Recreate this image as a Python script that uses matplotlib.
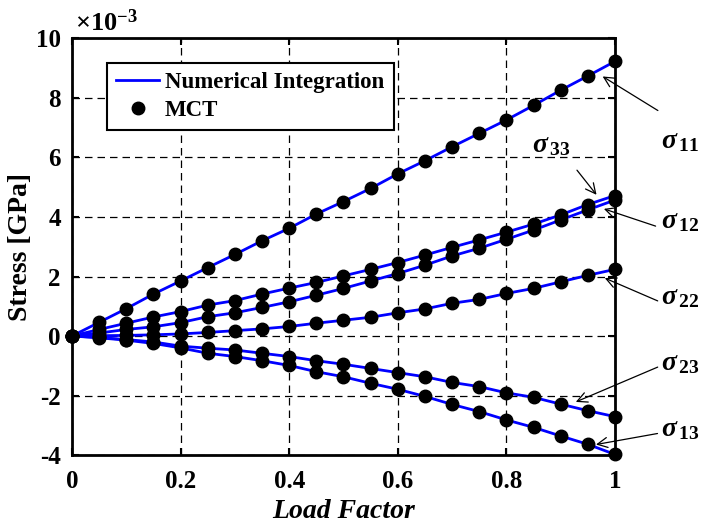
import matplotlib
matplotlib.use('Agg')
import matplotlib.pyplot as plt

plt.rcParams['font.family'] = ['Liberation Serif', 'DejaVu Serif']
plt.rcParams['font.weight'] = 'bold'
plt.rcParams['mathtext.fontset'] = 'custom'
plt.rcParams['mathtext.rm'] = 'Liberation Serif'
plt.rcParams['mathtext.it'] = 'Liberation Serif:italic'
plt.rcParams['mathtext.bf'] = 'Liberation Serif:bold'
plt.rcParams['axes.unicode_minus'] = False

# load factor steps
load = [0, 0.05, 0.1, 0.15, 0.2, 0.25, 0.3, 0.35, 0.4, 0.45, 0.5,
        0.55, 0.6, 0.65, 0.7, 0.75, 0.8, 0.85, 0.9, 0.95, 1.0]

# stress components, units of 1e-3 GPa
s11 = [0, 0.46, 0.92, 1.41, 1.85, 2.30, 2.74, 3.20, 3.62, 4.10, 4.52,
       4.96, 5.45, 5.89, 6.36, 6.81, 7.26, 7.75, 8.26, 8.74, 9.23]
s33 = [0, 0.22, 0.43, 0.64, 0.82, 1.04, 1.19, 1.41, 1.61, 1.80, 2.02,
       2.24, 2.47, 2.72, 2.98, 3.23, 3.49, 3.76, 4.07, 4.42, 4.72]
s12 = [0, 0.10, 0.22, 0.31, 0.45, 0.65, 0.78, 0.96, 1.15, 1.37, 1.60,
       1.85, 2.10, 2.38, 2.69, 2.95, 3.25, 3.56, 3.90, 4.24, 4.57]
s22 = [0, 0.01, 0.02, 0.04, 0.07, 0.12, 0.18, 0.24, 0.32, 0.43, 0.53,
       0.63, 0.78, 0.91, 1.10, 1.23, 1.43, 1.60, 1.82, 2.04, 2.24]
s23 = [0, -0.05, -0.12, -0.20, -0.34, -0.41, -0.47, -0.58, -0.69, -0.83, -0.95,
       -1.09, -1.23, -1.37, -1.56, -1.70, -1.91, -2.06, -2.29, -2.51, -2.71]
s13 = [0, -0.06, -0.14, -0.25, -0.40, -0.58, -0.69, -0.83, -0.99, -1.20, -1.37,
       -1.59, -1.79, -2.03, -2.30, -2.54, -2.82, -3.07, -3.36, -3.64, -3.98]

series = [s11, s33, s12, s22, s23, s13]

fig = plt.figure(figsize=(7.02, 5.25), dpi=100)
ax = fig.add_axes([0.1026, 0.1333, 0.7734, 0.7934])

W, H = 702, 525
def px(x, y):
    # pixel position in the reference -> data coords
    return ((x - 71.7) / 543.0, (336.0 - y) / 29.75)

for i, s in enumerate(series):
    ax.plot(load, s, '-', color='#0000ff', linewidth=2.0,
            label='Numerical Integration' if i == 0 else None, zorder=3)
for i, s in enumerate(series):
    ax.plot(load, s, 'o', color='black', markersize=9, linestyle='none',
            label='MCT' if i == 0 else None, zorder=4, clip_on=False)

ax.set_xlim(0, 1)
ax.set_ylim(-4, 10)
ax.set_xticks([0, 0.2, 0.4, 0.6, 0.8, 1])
ax.set_xticklabels(['0', '0.2', '0.4', '0.6', '0.8', '1'])
ax.set_yticks(range(-4, 11, 2))
ax.tick_params(direction='in', top=True, right=True, labelsize=18, width=1.5, length=5)
ax.tick_params(axis='x', pad=11)
ax.tick_params(axis='y', pad=8)
for lab in ax.get_xticklabels() + ax.get_yticklabels():
    lab.set_fontweight('bold')
ax.grid(True, color='black', linestyle=(0, (6, 4)), linewidth=0.9)
for sp in ax.spines.values():
    sp.set_linewidth(2.0)

ax.set_xlabel('Load Factor', fontsize=20, fontweight='bold', style='italic', labelpad=4)
ax.set_ylabel('Stress [GPa]', fontsize=20, fontweight='bold', labelpad=2)

ax.text(0.005, 1.005, r'$\times$10$^{\mathbf{-3}}$', transform=ax.transAxes,
        fontsize=19, ha='left', va='bottom')

leg = ax.legend(loc='upper left', bbox_to_anchor=(106.7 / W, 1 - 63 / H),
                bbox_transform=fig.transFigure, frameon=True,
                fancybox=False, edgecolor='black', framealpha=1,
                handlelength=1.9, handletextpad=0.25, borderpad=0.4, labelspacing=0.3,
                borderaxespad=0, prop={'weight': 'bold', 'size': 16.5})
leg.get_frame().set_linewidth(1.5)

labels = [
    (r'$\sigma_{\,\mathbf{11}}$', (661, 142), (660, 112), (600, 75)),
    (r'$\sigma_{\,\mathbf{33}}$', (532, 146), (575, 168), (598, 197)),
    (r'$\sigma_{\,\mathbf{12}}$', (661, 222), (658, 227), (601, 208)),
    (r'$\sigma_{\,\mathbf{22}}$', (661, 298), (660, 302), (602, 277)),
    (r'$\sigma_{\,\mathbf{23}}$', (661, 364), (660, 366), (573, 403)),
    (r'$\sigma_{\,\mathbf{13}}$', (661, 430), (660, 433), (593, 445)),
]
for txt, tpos, tail, head in labels:
    ax.text(*px(*tpos), txt, fontsize=20, ha='left', va='center', clip_on=False)
    ax.annotate('', xy=px(*head), xytext=px(*tail), xycoords='data', textcoords='data',
                arrowprops=dict(arrowstyle='->', color='black', lw=0.9,
                                mutation_scale=18), annotation_clip=False)

fig.savefig('out.png', dpi=100)
